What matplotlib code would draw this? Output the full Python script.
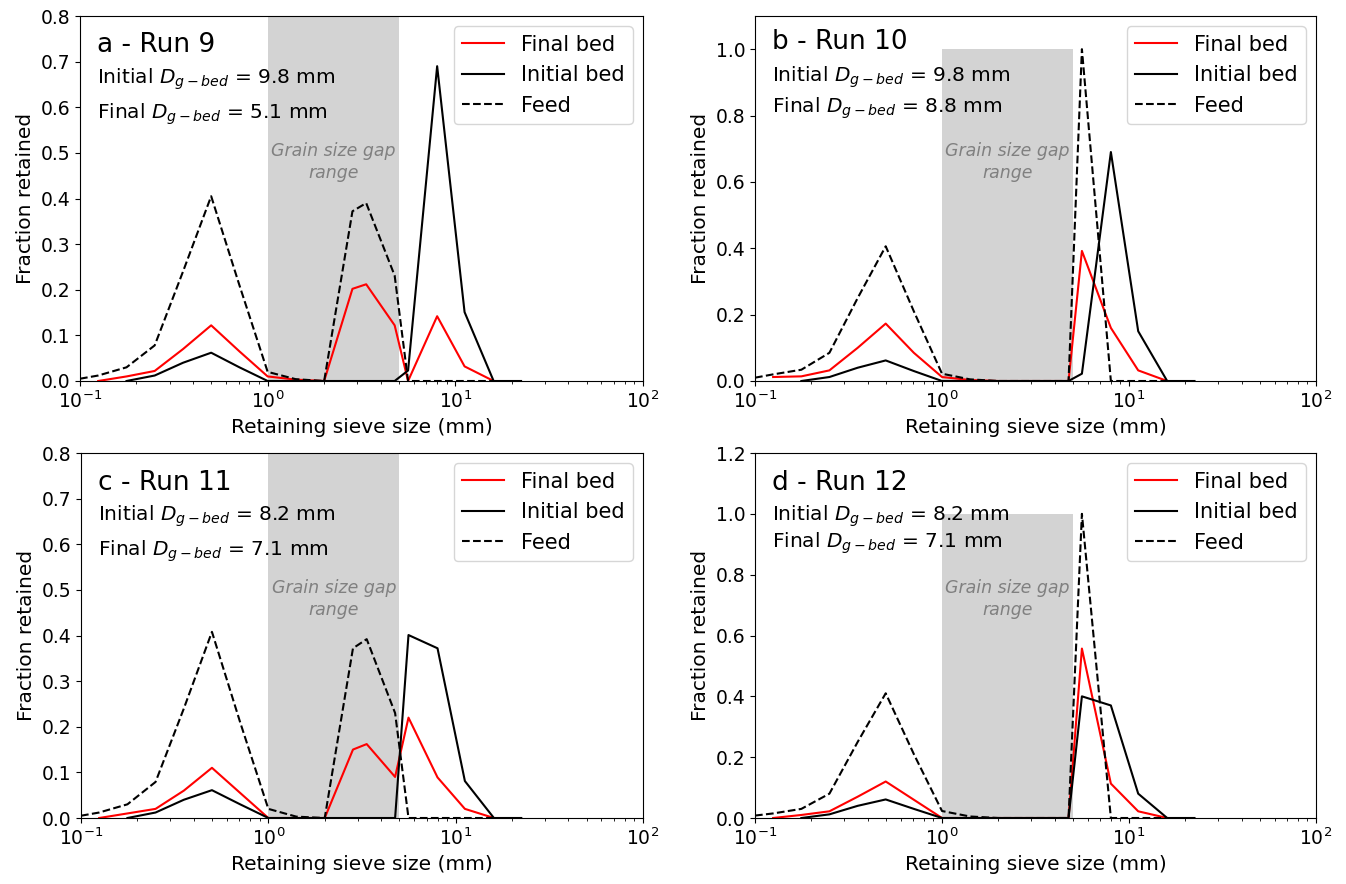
import numpy as np
import matplotlib
matplotlib.use("Agg")
import matplotlib.pyplot as plt

# ============================================================================
# Data
# ============================================================================

nan = np.nan

sieve_mm = [0.1, 0.125, 0.177, 0.25, 0.354, 0.5, 0.707, 1.0, 1.41, 2.0,
            2.83, 3.35, 4.75, 5.6, 8.0, 11.2, 16.0, 22.4]

# Run 9
feed_a = [0.005, 0.012, 0.03, 0.078, 0.24, 0.405, 0.21, 0.02, 0.004, 0.0,
          0.372, 0.39, 0.231, 0.0, 0.0, 0.0, 0.0, nan]
final_a = [nan, 0.0, 0.01, 0.022, 0.07, 0.122, 0.065, 0.01, 0.003, 0.0,
           0.202, 0.212, 0.122, 0.0, 0.142, 0.032, 0.0, nan]
initial_a = [nan, nan, 0.0, 0.012, 0.04, 0.062, 0.03, 0.0, 0.0, 0.0,
             0.0, 0.0, 0.0, 0.023, 0.69, 0.151, 0.0, 0.0]

# Run 10
feed_b = [0.01, 0.02, 0.034, 0.085, 0.25, 0.406, 0.21, 0.022, 0.005, 0.0,
          0.0, 0.0, 0.0, 1.0, 0.0, 0.0, 0.0, nan]
final_b = [nan, 0.012, 0.014, 0.032, 0.1, 0.173, 0.085, 0.012, 0.003, 0.0,
           0.0, 0.0, 0.0, 0.392, 0.16, 0.032, 0.0, nan]
initial_b = [nan, nan, 0.0, 0.012, 0.04, 0.062, 0.03, 0.0, 0.0, 0.0,
             0.0, 0.0, 0.0, 0.022, 0.69, 0.15, 0.0, 0.0]

# Run 11
feed_c = [0.005, 0.012, 0.03, 0.079, 0.24, 0.408, 0.21, 0.02, 0.003, 0.0,
          0.372, 0.392, 0.23, 0.0, 0.0, 0.0, 0.0, nan]
final_c = [nan, 0.0, 0.01, 0.02, 0.06, 0.11, 0.055, 0.0, 0.0, 0.0,
           0.15, 0.162, 0.09, 0.22, 0.089, 0.02, 0.0, nan]
initial_c = [nan, nan, 0.0, 0.012, 0.04, 0.061, 0.03, 0.0, 0.0, 0.0,
             0.0, 0.0, 0.0, 0.401, 0.372, 0.081, 0.0, 0.0]

# Run 12
feed_d = [0.008, 0.015, 0.03, 0.08, 0.25, 0.41, 0.21, 0.023, 0.005, 0.0,
          0.0, 0.0, 0.0, 1.0, 0.0, 0.0, 0.0, nan]
final_d = [nan, 0.0, 0.01, 0.022, 0.07, 0.12, 0.06, 0.0, 0.0, 0.0,
           0.0, 0.0, 0.0, 0.557, 0.113, 0.022, 0.0, nan]
initial_d = [nan, nan, 0.0, 0.012, 0.04, 0.061, 0.03, 0.0, 0.0, 0.0,
             0.0, 0.0, 0.0, 0.40, 0.37, 0.08, 0.0, 0.0]

panel_titles = ["a - Run 9", "b - Run 10", "c - Run 11", "d - Run 12"]
dg_initial = [9.8, 9.8, 8.2, 8.2]
dg_final = [5.1, 8.8, 7.1, 7.1]
y_max = [0.8, 1.1, 0.8, 1.2]
y_step = [0.1, 0.2, 0.1, 0.2]

gap_range = [1.0, 5.0]
gap_height = 1.0

# ============================================================================
# Plot
# ============================================================================

fig = plt.figure(figsize=(13.46, 8.84), dpi=100)

W, H = 1346.0, 884.0
# axes boxes in pixels: left, right, top, bottom
boxes = [(80, 643, 16, 381), (755, 1316, 16, 381),
         (81, 643, 453, 818), (755, 1316, 453, 818)]
# text y positions (axes fraction): title, initial, final
text_y = [(0.90, 0.815, 0.72), (0.91, 0.82, 0.735),
          (0.90, 0.815, 0.72), (0.90, 0.815, 0.74)]

series = [(final_a, initial_a, feed_a), (final_b, initial_b, feed_b),
          (final_c, initial_c, feed_c), (final_d, initial_d, feed_d)]

for i in range(4):
    l, r, t, b = boxes[i]
    ax = fig.add_axes([l / W, 1 - b / H, (r - l) / W, (b - t) / H])
    final, initial, feed = series[i]

    # gap shading
    ax.fill_between(gap_range, 0, gap_height, color="lightgray",
                    linewidth=0, zorder=0)
    ax.text(np.sqrt(gap_range[0] * gap_range[1]), 0.6,
            "Grain size gap\nrange", transform=ax.get_xaxis_transform(),
            ha="center", va="center", style="italic", color="gray",
            fontsize=12.5, linespacing=1.3)

    ax.plot(sieve_mm, final, color="red", lw=1.5, label="Final bed")
    ax.plot(sieve_mm, initial, color="black", lw=1.5, label="Initial bed")
    ax.plot(sieve_mm, feed, color="black", lw=1.5, ls="--", label="Feed")

    ax.set_xscale("log")
    ax.set_xlim(0.1, 100)
    ax.set_ylim(0, y_max[i])
    ax.set_yticks(np.arange(0, y_max[i] + 1e-6, y_step[i]))
    ax.yaxis.set_major_formatter(plt.FormatStrFormatter("%.1f"))
    ax.tick_params(labelsize=13.5)

    ax.set_xlabel("Retaining sieve size (mm)", fontsize=14.5)
    ax.set_ylabel("Fraction retained", fontsize=14.5)

    ty = text_y[i]
    ax.text(0.03, ty[0], panel_titles[i], transform=ax.transAxes,
            fontsize=19, va="baseline")
    ax.text(0.03, ty[1], "Initial $D_{g-bed}$ = %.1f mm" % dg_initial[i],
            transform=ax.transAxes, fontsize=14.5, va="baseline")
    ax.text(0.03, ty[2], "Final $D_{g-bed}$ = %.1f mm" % dg_final[i],
            transform=ax.transAxes, fontsize=14.5, va="baseline")

    ax.legend(loc="upper right", fontsize=15)

fig.savefig("out.png", dpi=100)
